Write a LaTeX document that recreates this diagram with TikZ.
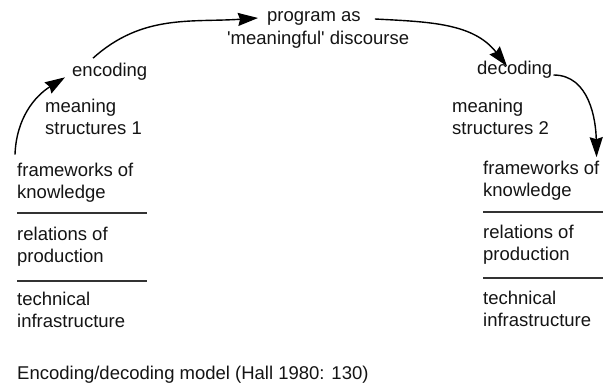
\documentclass[tikz,border=0pt]{standalone}
\usepackage{fontspec}
\setmainfont{Liberation Sans}
\usetikzlibrary{arrows.meta}
\begin{document}
\begin{tikzpicture}[x=1pt,y=-1pt,
  txt/.style={inner sep=0pt,anchor=west,align=left,text=black!92,
    font=\fontsize{18.5}{22}\selectfont},
  arr/.style={line width=1.4pt,-{Stealth[length=20pt,width=13pt,inset=2pt]}},
  rule/.style={line width=1.1pt,black!80}]
\useasboundingbox (0,0) rectangle (603,385);
% left column
\node[txt] (encL) at (72,72) {encoding};
\node[txt] (msL) at (45,117) {meaning\\structures 1};
\node[txt] (fkL) at (17,182.5) {frameworks of\\knowledge};
\node[txt] (rpL) at (17,246.5) {relations of\\production};
\node[txt] (tiL) at (17,309.5) {technical\\infrastructure};
\draw[rule] (17,213) -- (147,213);
\draw[rule] (17,281) -- (147,281);
% top
\node[txt] (prog1) at (267,18) {program as};
\node[txt] (prog2) at (227,40) {\textquotesingle meaningful\textquotesingle{} discourse};
% right column
\node[txt] (decR) at (477,70) {decoding};
\node[txt] (msR) at (452,117) {meaning\\structures 2};
\node[txt] (fkR) at (483,181) {frameworks of\\knowledge};
\node[txt] (rpR) at (483,245) {relations of\\production};
\node[txt] (tiR) at (483,308.5) {technical\\infrastructure};
\draw[rule] (483,212) -- (603,212);
\draw[rule] (483,278) -- (603,278);
% caption
\node[txt] (cap) at (17,375) {Encoding/decoding model (Hall 1980: 130)};
% arrows
\draw[arr] ([xshift=-2pt,yshift=8pt]fkL.north west) to[out=88,in=212] ([xshift=-7pt,yshift=3.5pt]encL.south west);
\draw[arr] ([xshift=21pt,yshift=5pt]encL.north west) to[out=42,in=184] ([xshift=-9pt]prog1.west);
\draw[arr] ([xshift=14pt,yshift=-1pt]prog1.east) to[out=-3,in=128] ([xshift=30pt,yshift=-5pt]decR.north west);
\draw[arr] ([xshift=1pt,yshift=-5pt]decR.east) to[out=0,in=91] ([xshift=-3pt,yshift=4pt]fkR.north east);
\end{tikzpicture}
\end{document}
